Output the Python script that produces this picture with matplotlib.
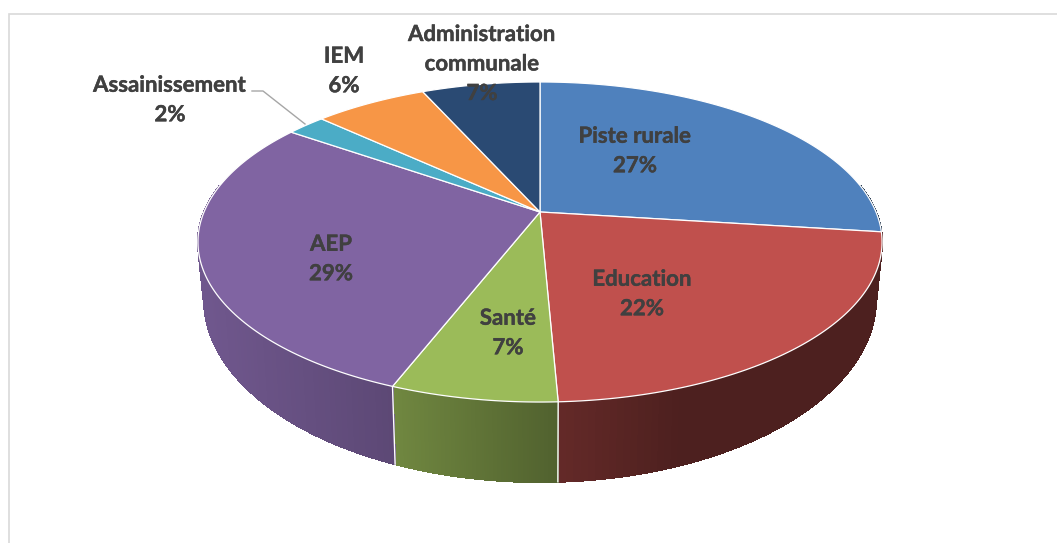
import numpy as np
import matplotlib
matplotlib.use("Agg")
import matplotlib.pyplot as plt
from matplotlib.collections import PolyCollection
from matplotlib.patches import Polygon
import matplotlib.patheffects as pe

# chart data, clockwise from the top
names = ["Piste rurale", "Education", "Santé", "AEP", "Assainissement", "IEM", "Administration\ncommunale"]
values = [27, 22.3, 6.6, 28.8, 2.2, 6.4, 6.7]
colors = ["#4f81bd", "#c0504d", "#9bbb59", "#8064a2", "#4bacc6", "#f79646", "#2a4a73"]
label_x = [635, 642, 508, 331, 170, 344, 482]
label_y = [151, 294, 333, 259, 100, 71, 64]

plt.rcParams["font.family"] = ["Lato", "DejaVu Sans"]

W, H = 1057, 543
AX, AY = 540, 212      # apex of the pie
RX_U, RY_V, K = 336, 154.4, -0.1875   # perspective of the top face
CY_TOP, RX_TOP, RY_TOP = 242, 342, 160
CY_LOW, RX_LOW, RY_LOW = 299, 336, 183
WALL_SHADE_X = [205, 395, 558, 680, 880]
WALL_SHADE = [0.87, 0.72, 0.52, 0.40, 0.40]


#Point on the rim of the top face, theta in radians clockwise from the top
def rim(theta):
    u, v = np.sin(theta), -np.cos(theta)
    d = 1 + K * v
    return AX + RX_U * u / d, AY + RY_V * v / d


#Same rim point dropped onto the lower edge of the wall
def low_rim(theta):
    x, y = rim(theta)
    t = np.arctan2((x - AX) / RX_TOP, -(y - CY_TOP) / RY_TOP)
    return AX + RX_LOW * np.sin(t), CY_LOW - RY_LOW * np.cos(t)


def to_rgb(c):
    return np.array(matplotlib.colors.to_rgb(c))


fig = plt.figure(figsize=(W / 100, H / 100), dpi=100)
ax = fig.add_axes([0, 0, 1, 1])
ax.set_xlim(0, W)
ax.set_ylim(H, 0)
ax.axis("off")

# chart frame
ax.plot([9, 9, W], [H, 14, 14], color="#d9d9d9", lw=1.2, solid_joinstyle="miter")

edges = np.cumsum([0] + values) / sum(values) * 2 * np.pi

# walls first, the top face hides the rest
for i, col in enumerate(colors):
    a0, a1 = max(edges[i], np.radians(80)), min(edges[i + 1], np.radians(280))
    if a1 <= a0:
        continue
    th = np.linspace(a0, a1, 80)
    xt, yt = rim(th)
    xb, yb = low_rim(th)
    quads, cols = [], []
    for j in range(len(th) - 1):
        quads.append([(xt[j], yt[j]), (xt[j + 1], yt[j + 1]), (xb[j + 1], yb[j + 1]), (xb[j], yb[j])])
        shade = np.interp((xt[j] + xt[j + 1]) / 2, WALL_SHADE_X, WALL_SHADE)
        cols.append(to_rgb(col) * shade)
    ax.add_collection(PolyCollection(quads, facecolors=cols, edgecolors=cols, linewidths=0.8,
                                     antialiased=False, zorder=2))

# white seams between wall pieces
for a in edges[1:-1]:
    if np.radians(110) < a < np.radians(250):
        x0, y0 = rim(a)
        x1, y1 = low_rim(a)
        ax.plot([x0, x1], [y0, y1], color="white", lw=1, zorder=3)

# top face
for i, col in enumerate(colors):
    th = np.linspace(edges[i], edges[i + 1], 100)
    x, y = rim(th)
    pts = np.column_stack([np.r_[AX, x], np.r_[AY, y]])
    ax.add_patch(Polygon(pts, closed=True, facecolor=col, edgecolor="white", lw=0.9, zorder=4))

# leader line of the small slice
ax.plot([252, 263, 305], [91, 91, 124], color="#a6a6a6", lw=1, zorder=5)

for name, v, x, y in zip(names, values, label_x, label_y):
    ax.text(x, y, f"{name}\n{v:.0f}%", ha="center", va="center", ma="center", fontsize=16,
            fontweight="bold", color="#404040", linespacing=1.5, zorder=6,
            path_effects=[pe.withStroke(linewidth=0.3, foreground="#404040")])

fig.savefig("out.png", dpi=100, facecolor="white")
